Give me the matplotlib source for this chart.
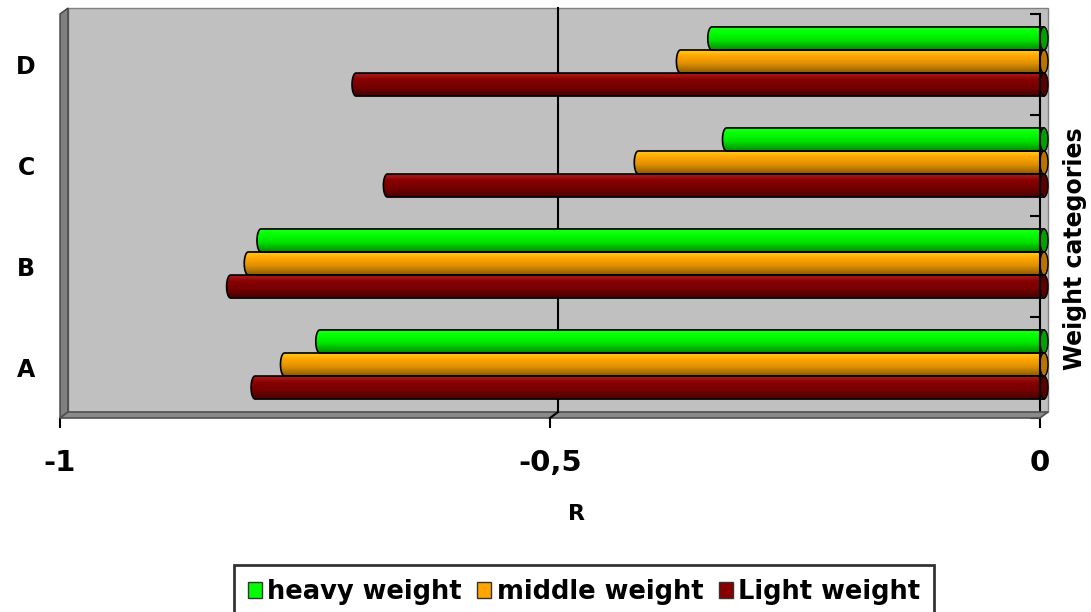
import numpy as np
import matplotlib
matplotlib.use('Agg')
import matplotlib.pyplot as plt
import matplotlib.transforms as mtransforms
from matplotlib.patches import Polygon, PathPatch, Ellipse, Patch
from matplotlib.path import Path

# Data
categories = ['A', 'B', 'C', 'D']
heavy = [-0.739, -0.799, -0.324, -0.339]
middle = [-0.775, -0.812, -0.414, -0.371]
light = [-0.805, -0.830, -0.670, -0.702]

series_names = ['heavy weight', 'middle weight', 'Light weight']
series_colors = ['#00ff00', '#ffa500', '#880000']
end_colors = ['#00a000', '#b87400', '#5a0000']

plt.rcParams['font.family'] = ['DejaVu Sans']
plt.rcParams['font.weight'] = 'bold'

fig = plt.figure(figsize=(10.91, 6.12), dpi=100)
ax = fig.add_axes([60 / 1091, 194 / 612, 980 / 1091, 404 / 612])
ax.set_xlim(-1, 0)
ax.set_ylim(0, 4)

back = mtransforms.offset_copy(ax.transData, fig, x=8, y=6, units='dots')
mid = mtransforms.offset_copy(ax.transData, fig, x=4, y=3, units='dots')

# 3D walls
ax.add_patch(Polygon([(-1, 0), (0, 0), (0, 4), (-1, 4)], closed=True, transform=back,
                     fc='#c0c0c0', ec='#808080', lw=1, zorder=0, clip_on=False))


def disp(pt, tr):
    return tr.transform(pt)


# left side wall and floor in display coords
corners_front = [disp(p, ax.transData) for p in [(-1, 0), (-1, 4), (0, 0)]]
corners_back = [disp(p, back) for p in [(-1, 0), (-1, 4), (0, 0)]]
left_wall = [corners_front[0], corners_front[1], corners_back[1], corners_back[0]]
floor = [corners_front[0], corners_front[2], corners_back[2], corners_back[0]]
fig.patches.append(Polygon(left_wall, closed=True, transform=None, fc='#808080',
                           ec='#404040', lw=1, zorder=1))
fig.patches.append(Polygon(floor, closed=True, transform=None, fc='#8a8a8a',
                           ec='#505050', lw=1.2, zorder=1))

# gridline at -0.5 on back wall and floor
ax.plot([-0.5, -0.5], [0, 4], color='black', lw=1.5, transform=back, zorder=1, clip_on=False)
p1 = disp((-0.5, 0), back)
p0 = disp((-0.5, 0), ax.transData)
fig.lines.append(plt.Line2D([p0[0], p1[0]], [p0[1], p1[1]], color='black', lw=1.5,
                            transform=None, zorder=2))

# cylinder bars
bar_h = 0.228
cap = 4 / 980
shade_t = [0.0, 0.08, 0.3, 0.6, 1.0]
shade_f = [0.75, 1.05, 1.0, 0.88, 0.55]


def cylinder(v, yc, color, end_color):
    yb, yt = yc - bar_h / 2, yc + bar_h / 2
    ang = np.linspace(np.pi / 2, 3 * np.pi / 2, 30)
    arc = np.column_stack([v + cap * np.cos(ang), yc + bar_h / 2 * np.sin(ang)])
    verts = np.vstack([[(0, yt)], arc, [(0, yb)], [(0, yt)]])
    codes = [Path.MOVETO] + [Path.LINETO] * (len(verts) - 2) + [Path.CLOSEPOLY]
    path = Path(verts, codes)
    rgb = np.array(matplotlib.colors.to_rgb(color))
    t = np.linspace(0, 1, 40)
    f = np.interp(t, shade_t, shade_f)
    grad = np.clip(rgb[None, :] * f[:, None], 0, 1)
    grad = np.clip(grad + np.maximum(f - 1, 0)[:, None] * 2, 0, 1)[:, None, :]
    clip = PathPatch(path, transform=mid, fc='none', ec='none')
    ax.add_patch(clip)
    im = ax.imshow(grad, extent=[v - cap, 0, yb, yt], origin='upper', aspect='auto',
                   transform=mid, zorder=3, interpolation='bilinear')
    im.set_clip_path(clip)
    ax.add_patch(PathPatch(path, transform=mid, fc='none', ec='black', lw=1.2,
                           zorder=4, clip_on=False))
    ax.add_patch(Ellipse((0, yc), 2 * cap, bar_h, transform=mid, fc=end_color,
                         ec='black', lw=1, zorder=4, clip_on=False))


for i, cat in enumerate(categories):
    yc = i + 0.5
    for j, vals in enumerate([heavy, middle, light]):
        cylinder(vals[i], yc + (1 - j) * bar_h, series_colors[j], end_colors[j])

ax.set_xlim(-1, 0)
ax.set_ylim(0, 4)
ax.set_aspect('auto')

for s in ['top', 'left', 'bottom']:
    ax.spines[s].set_visible(False)
ax.spines['right'].set_linewidth(1.5)
ax.spines['right'].set_zorder(5)

ax.set_xticks([-1, -0.5, 0])
ax.set_xticklabels(['-1', '-0,5', '0'], fontsize=21, fontweight='bold')
ax.tick_params(axis='x', direction='out', length=7, width=1.5, pad=15.5)

ax.set_yticks([0, 1, 2, 3, 4])
ax.yaxis.set_ticks_position('right')
ax.tick_params(axis='y', which='major', direction='in', length=7, width=1.5,
               labelright=False, labelleft=False, left=False, right=True)
ax.set_yticks([0.5, 1.5, 2.5, 3.5], minor=True)
ax.set_yticklabels(categories, minor=True, fontsize=17, fontweight='bold')
ax.tick_params(axis='y', which='minor', length=0, left=False, right=False,
               labelleft=True, labelright=False, pad=18)

ax.set_xlabel('R', fontsize=16, fontweight='bold')
ax.xaxis.set_label_coords(0.527, -0.213)
ax.yaxis.set_label_position('right')
ax.set_ylabel('Weight categories', fontsize=17, fontweight='bold')
ax.yaxis.set_label_coords(1.023, 0.418)

handles = [Patch(fc=c, ec='#333333', lw=1) for c in series_colors]
leg = fig.legend(handles, series_names, loc='upper center',
                 bbox_to_anchor=(584 / 1091, 1 - 565 / 612),
                 ncol=3, frameon=True, fancybox=False, edgecolor='black', fontsize=18.5,
                 handlelength=0.55, handleheight=0.55, handletextpad=0.2, columnspacing=0.6,
                 borderpad=0.55, borderaxespad=0)
leg.get_frame().set_linewidth(2)

fig.savefig('out.png', dpi=100)
